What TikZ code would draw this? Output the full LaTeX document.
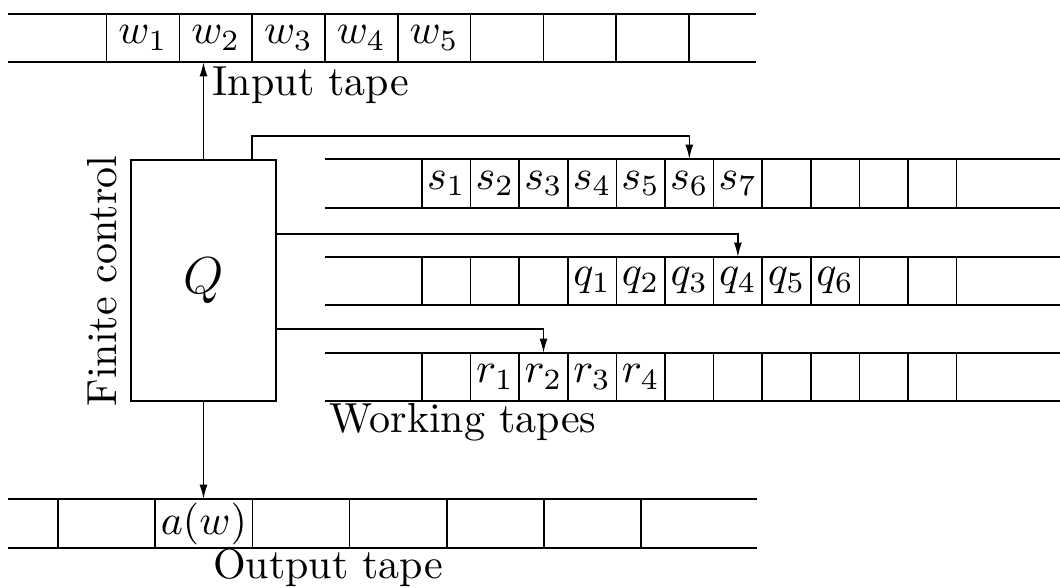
\documentclass[tikz,border=0pt]{standalone}
\usepackage{fix-cm}
\usetikzlibrary{arrows.meta,calc}
\begin{document}
\begin{tikzpicture}[x=0.25pt,y=-0.25pt,
  font=\fontsize{10.5}{12.6}\selectfont,
  tapeline/.style={line width=0.4pt},
  arr/.style={-{Latex[length=3.6pt,width=2pt]},line width=0.4pt},
  fcbox/.style={draw,line width=0.4pt,minimum width=36.25pt,minimum height=60.25pt,inner sep=0pt,font=\fontsize{13}{15}\selectfont},
  celltext/.style={inner sep=0pt},
  lbl/.style={inner sep=0pt}]
\useasboundingbox (0,0) rectangle (1060,588);

% ---------- input tape ----------
\draw[tapeline] (8,14) -- (756,14);
\draw[tapeline] (8,62) -- (756,62);
\foreach \i in {0,...,8} {
  \draw[tapeline] (106.5+72.8*\i,14) -- (106.5+72.8*\i,62);
}
\foreach \i in {1,...,5} {
  \node[celltext] (w\i) at (106.5+72.8*\i-36.4,38) {$w_{\i}$};
}
\coordinate (inB) at (0,62);
\node[lbl,anchor=base west] (inlabel) at (212,96) {Input tape};

% ---------- working tape 1 ----------
\draw[tapeline] (325,159) -- (1060,159);
\draw[tapeline] (325,208) -- (1060,208);
\foreach \i in {0,...,11} {
  \draw[tapeline] (422+48.6*\i,159) -- (422+48.6*\i,208);
}
\foreach \i in {1,...,7} {
  \node[celltext] (s\i) at (422+48.6*\i-24.3,183.5) {$s_{\i}$};
}
\coordinate (s6top) at (422+48.6*5.5,159);

% ---------- working tape 2 ----------
\draw[tapeline] (325,257) -- (1060,257);
\draw[tapeline] (325,305) -- (1060,305);
\foreach \i in {0,...,11} {
  \draw[tapeline] (422+48.6*\i,257) -- (422+48.6*\i,305);
}
\foreach \i in {1,...,6} {
  \node[celltext] (q\i) at (422+48.6*\i+121.5,281) {$q_{\i}$};
}
\coordinate (q4top) at (422+48.6*6.5,257);

% ---------- working tape 3 ----------
\draw[tapeline] (325,353) -- (1060,353);
\draw[tapeline] (325,401) -- (1060,401);
\foreach \i in {0,...,11} {
  \draw[tapeline] (422+48.6*\i,353) -- (422+48.6*\i,401);
}
\foreach \i in {1,...,4} {
  \node[celltext] (r\i) at (422+48.6*\i+24.3,377) {$r_{\i}$};
}
\coordinate (r2top) at (422+48.6*2.5,353);
\node[lbl,anchor=base west] (wlabel) at (329,432) {Working tapes};

% ---------- output tape ----------
\draw[tapeline] (8,499) -- (757,499);
\draw[tapeline] (8,548) -- (757,548);
\foreach \i in {0,...,6} {
  \draw[tapeline] (58+97.2*\i,499) -- (58+97.2*\i,548);
}
\node[celltext] (aw) at (203.8,523.5) {$a(w)$};
\coordinate (outT) at (0,499);
\node[lbl,anchor=base] (outlabel) at (328,578) {Output tape};

% ---------- finite control ----------
\node[fcbox] (fc) at (203.5,280.5) {$Q$};
\node[lbl,rotate=90,anchor=base] (fclabel) at (116,281) {Finite control};

\coordinate (c1) at (252,160);
\coordinate (c1up) at (252,136);
\coordinate (c2) at (276,234);
\coordinate (c3) at (276,329);

% ---------- connectors ----------
\draw[arr] (fc.north) -- (fc.north |- inB);
\draw[arr] (c1) -- (c1up) -| (s6top);
\draw[arr] (c2) -| (q4top);
\draw[arr] (c3) -| (r2top);
\draw[arr] (fc.south) -- (fc.south |- outT);
\end{tikzpicture}
\end{document}
